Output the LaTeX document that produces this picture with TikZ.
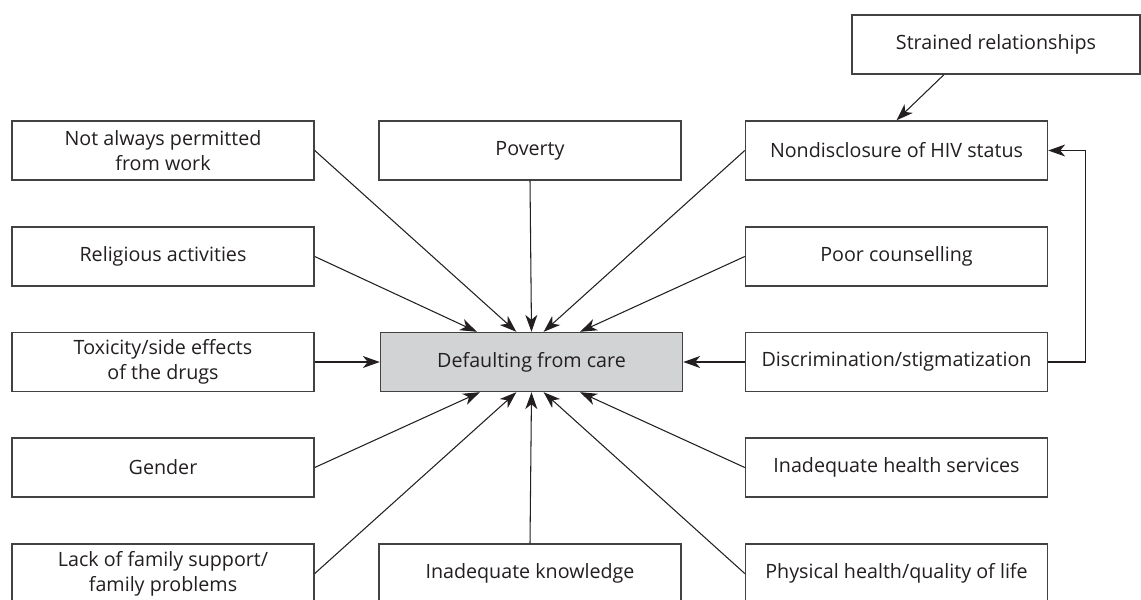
\documentclass[tikz,border=0pt]{standalone}
\usepackage{fontspec}
\setmainfont{Open Sans}
\usetikzlibrary{calc}
\usetikzlibrary{arrows.meta}
\tikzset{>={Stealth[length=12pt,width=8.5pt,inset=3.5pt]}}
\usepackage{xcolor}
\definecolor{inkgray}{HTML}{231F20}
\definecolor{boxgray}{HTML}{D1D3D4}
\tikzset{
  factor/.style={draw=inkgray!85,line width=1pt,fill=white,
    minimum width=7.55cm,minimum height=1.475cm,inner sep=0pt,
    align=center,text=inkgray,font=\fontsize{14}{18}\selectfont},
  link/.style={->,draw=inkgray,line width=0.75pt}
}

\begin{document}
\begin{tikzpicture}[x=0.025cm,y=-0.025cm]
  \useasboundingbox (0,0) rectangle (1141,599);

  % 节点
  \node[factor,minimum width=7.2cm] (strained) at (996,44.5) {Strained relationships};

  \node[factor] (permit)   at (163,150.5) {Not always permitted\\from work};
  \node[factor] (religion) at (163,256.5) {Religious activities};
  \node[factor] (toxic)    at (163,362)   {Toxicity/side effects\\of the drugs};
  \node[factor] (gender)   at (163,467.5) {Gender};
  \node[factor] (family)   at (163,573.5) {Lack of family support/\\family problems};

  \node[factor] (poverty)   at (530,150.5) {Poverty};
  \node[factor,fill=boxgray] (care) at (531.5,362) {Defaulting from care};
  \node[factor] (knowledge) at (530,573.5) {Inadequate knowledge};

  \node[factor] (nondis)   at (896.5,150.5) {Nondisclosure of HIV status};
  \node[factor] (counsel)  at (896.5,256.5) {Poor counselling};
  \node[factor] (discr)    at (896.5,362)   {Discrimination/stigmatization};
  \node[factor] (services) at (896.5,467.5) {Inadequate health services};
  \node[factor] (physical) at (896.5,573.5) {Physical health/quality of life};

  % 箭头落点
  \coordinate (T1) at ($(care.north west)!0.32!(care.north east)$);
  \coordinate (T2) at ($(care.north west)!0.45!(care.north east)$);
  \coordinate (T4) at ($(care.north west)!0.54!(care.north east)$);
  \coordinate (T5) at ($(care.north west)!0.66!(care.north east)$);
  \coordinate (B1) at ($(care.south west)!0.33!(care.south east)$);
  \coordinate (B2) at ($(care.south west)!0.45!(care.south east)$);
  \coordinate (B4) at ($(care.south west)!0.54!(care.south east)$);
  \coordinate (B5) at ($(care.south west)!0.66!(care.south east)$);
  \coordinate (S1) at ($(strained.south west)!0.32!(strained.south east)$);

  % 连线
  \draw[link] (permit.east) -- (T2);
  \draw[link] (religion.east) -- (T1);
  \draw[link] (poverty.south) -- (care.north);
  \draw[link] (nondis.west) -- (T4);
  \draw[link] (counsel.west) -- (T5);
  \draw[link] (toxic.east) -- (care.west);
  \draw[link] (discr.west) -- (care.east);
  \draw[link] (gender.east) -- (B1);
  \draw[link] (family.east) -- (B2);
  \draw[link] (knowledge.north) -- (care.south);
  \draw[link] (physical.west) -- (B4);
  \draw[link] (services.west) -- (B5);

  \draw[link] (S1) -- (nondis.north);
  \draw[link] (discr.east) -- ++(37,0) |- (nondis.east);
\end{tikzpicture}
\end{document}
